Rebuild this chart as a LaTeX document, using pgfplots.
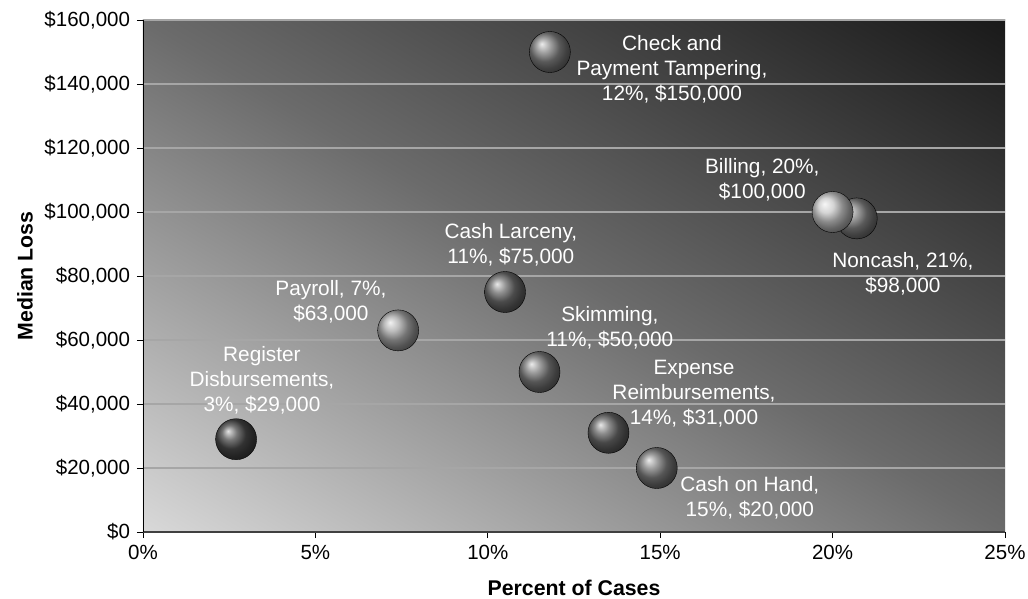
\documentclass[border=0pt]{standalone}
\usepackage{pgfplots}
\pgfplotsset{compat=1.18}
\usepackage{fontspec}
\setmainfont{Liberation Sans}
\pgfdeclarefunctionalshading{diagbg}{\pgfpoint{0bp}{0bp}}{\pgfpoint{100bp}{100bp}}{}{
  add 50 sub 100 div
  dup 0 lt {pop 0} if
  dup 1 gt {pop 1} if
  dup 0.5 lt {-0.86 mul 0.85 add} {1 sub -0.64 mul 0.10 add} ifelse
  dup dup
}

\begin{document}
\fontsize{20.5}{25}\selectfont
\begin{tikzpicture}
\begin{axis}[
  at={(0,0)}, anchor=south west,
  scale only axis, width=862pt, height=512pt,
  xmin=0, xmax=25, ymin=0, ymax=160000,
  xtick={0,5,10,15,20,25},
  ytick={0,20000,40000,60000,80000,100000,120000,140000,160000},
  scaled y ticks=false, scaled x ticks=false,
  xticklabel={\pgfmathprintnumber[assume math mode=true,fixed,precision=0]{\tick}\%},
  yticklabel={\$\pgfmathprintnumber[assume math mode=true,fixed,precision=0,1000 sep={,}]{\tick}},
  tick label style={font=\fontsize{20.5}{24}\selectfont, black},
  axis x line*=bottom, axis y line*=left,
  x axis line style={-, line width=2.2pt, black!75},
  y axis line style={-, line width=0.9pt, black},
  tick align=outside, major tick length=6pt,
  tick style={black, line width=0.8pt},
  ymajorgrids, major grid style={line width=1.4pt, black!35},
  axis background/.style={shade, shading=diagbg},
  every axis x label/.style={at={(axis description cs:0.5,-0.109)}, anchor=center, font=\bfseries\fontsize{21.3}{24}\selectfont},
  every axis y label/.style={at={(axis description cs:-0.137,0.5)}, anchor=center, rotate=90, font=\bfseries\fontsize{21.3}{24}\selectfont},
  xlabel={Percent of Cases},
  ylabel={Median Loss},
  clip=false,
]
% Register Disbursements
\addplot[only marks, mark=ball, mark size=20.5pt, mark options={ball color=black!72}] coordinates {(2.7,29000)};
% Payroll
\addplot[only marks, mark=ball, mark size=20.5pt, mark options={ball color=black!35}] coordinates {(7.4,63000)};
% Cash Larceny
\addplot[only marks, mark=ball, mark size=20.5pt, mark options={ball color=black!58}] coordinates {(10.5,75000)};
% Skimming
\addplot[only marks, mark=ball, mark size=20.5pt, mark options={ball color=black!52}] coordinates {(11.5,50000)};
% Check and Payment Tampering
\addplot[only marks, mark=ball, mark size=20.5pt, mark options={ball color=black!50}] coordinates {(11.8,150000)};
% Expense Reimbursements
\addplot[only marks, mark=ball, mark size=20.5pt, mark options={ball color=black!60}] coordinates {(13.5,31000)};
% Cash on Hand
\addplot[only marks, mark=ball, mark size=20.5pt, mark options={ball color=black!52}] coordinates {(14.9,20000)};
% Noncash
\addplot[only marks, mark=ball, mark size=20.5pt, mark options={ball color=black!50}] coordinates {(20.7,98000)};
% Billing
\addplot[only marks, mark=ball, mark size=20.5pt, mark options={ball color=black!22}] coordinates {(20.0,100000)};

\begin{scope}[every node/.style={align=center, text=white, font=\fontsize{20.8}{25}\selectfont}]
\node at (axis cs:15.34,144700) {Check and\\Payment Tampering,\\12\%, \$150,000};
\node at (axis cs:17.96,110000) {Billing, 20\%,\\\$100,000};
\node at (axis cs:22.04,80600) {Noncash, 21\%,\\\$98,000};
\node at (axis cs:10.67,89700) {Cash Larceny,\\11\%, \$75,000};
\node at (axis cs:5.45,71900) {Payroll, 7\%,\\\$63,000};
\node at (axis cs:13.54,63750) {Skimming,\\11\%, \$50,000};
\node at (axis cs:3.45,47500) {Register\\Disbursements,\\3\%, \$29,000};
\node at (axis cs:15.98,43100) {Expense\\Reimbursements,\\14\%, \$31,000};
\node at (axis cs:17.6,10600) {Cash on Hand,\\15\%, \$20,000};
\end{scope}
\end{axis}
\pgfresetboundingbox
\path (-143pt,-66pt) rectangle (885pt,532pt);
\end{tikzpicture}
\end{document}
